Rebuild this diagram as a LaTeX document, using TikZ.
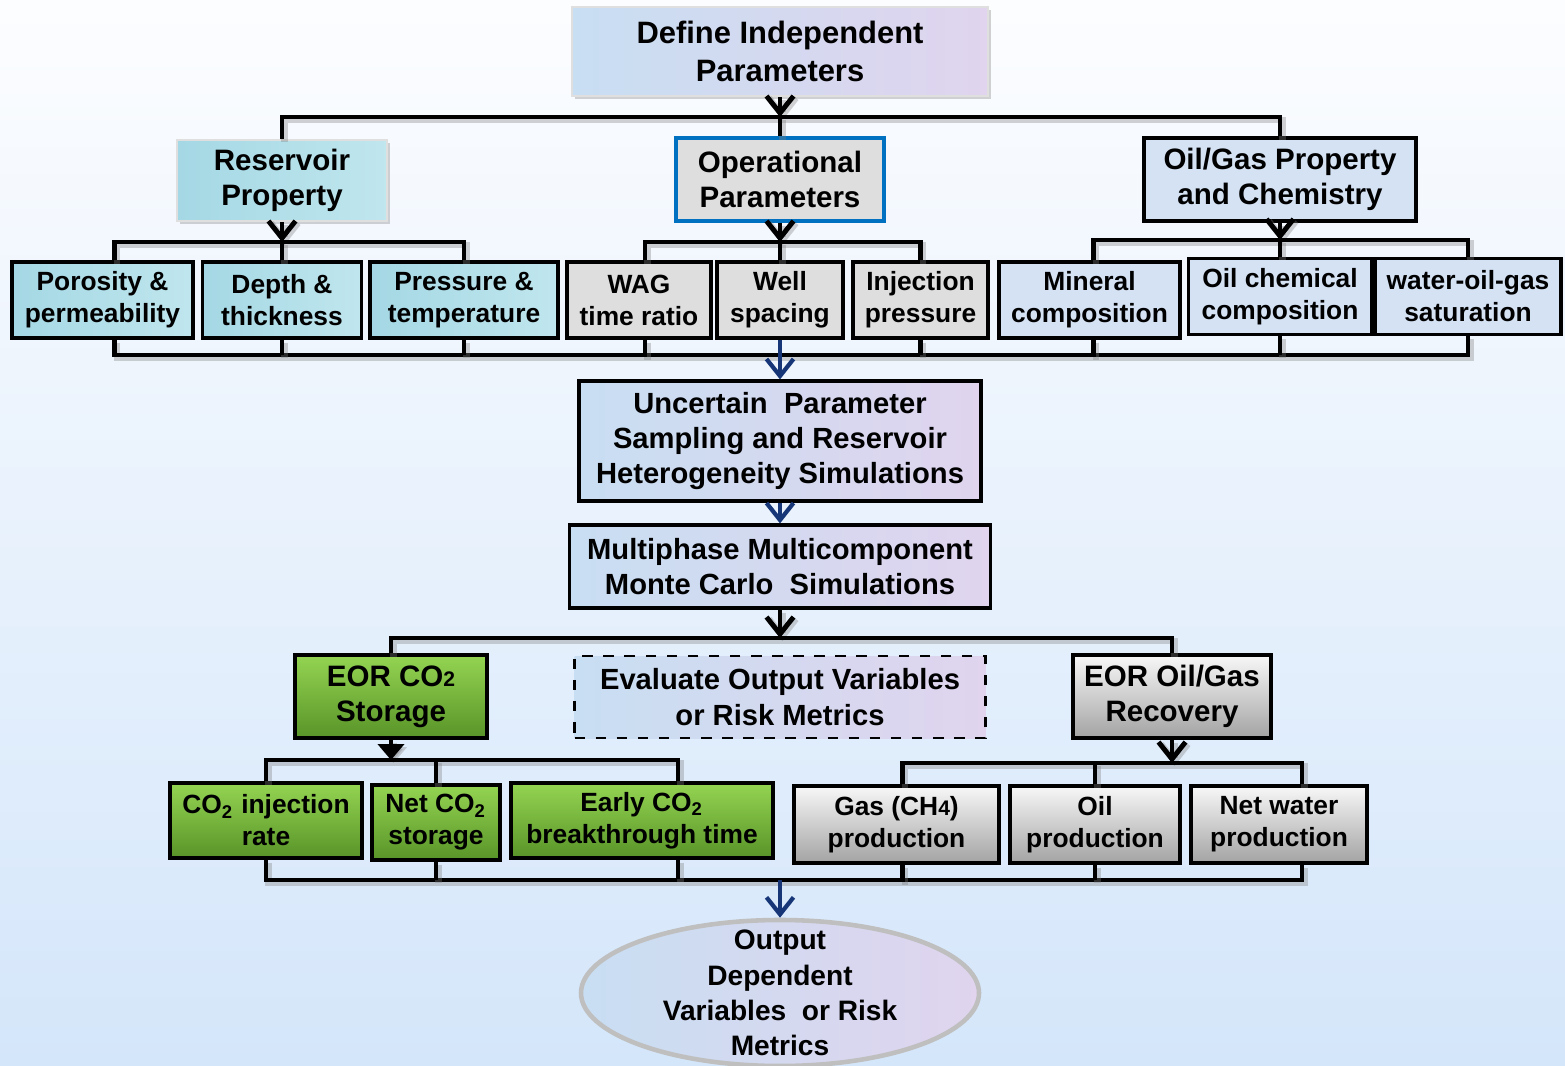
\documentclass[tikz,border=0pt]{standalone}
\usepackage{fontspec}
\setmainfont{Liberation Sans}
\usetikzlibrary{arrows.meta,shapes.geometric,shadows}
\definecolor{skytop}{RGB}{252,253,255}
\definecolor{skybot}{RGB}{212,230,250}
\definecolor{pastel}{RGB}{212,216,240}
\definecolor{pastelb}{RGB}{200,222,242}
\definecolor{pastelp}{RGB}{224,212,238}
\definecolor{aqua}{RGB}{164,216,228}
\definecolor{aquab}{RGB}{192,230,238}
\definecolor{marble}{RGB}{222,222,222}
\definecolor{chem}{RGB}{212,226,244}
\definecolor{leaf}{RGB}{148,212,82}
\definecolor{leafdark}{RGB}{88,148,40}
\definecolor{opblue}{RGB}{0,112,192}
\definecolor{navy}{RGB}{22,54,120}
\newcommand{\lowdigit}[1]{{\fontsize{6}{6}\selectfont #1}}

\begin{document}
\begin{tikzpicture}[>={Straight Barb[length=1.7mm,width=2.7mm]},
  box/.style={draw=black,line width=0.9pt,align=center,inner sep=0pt,
    font=\bfseries\fontsize{7.5}{9.1}\selectfont},
  head/.style={box,font=\bfseries\fontsize{8.4}{10}\selectfont},
  core/.style={box,left color=pastelb,middle color=pastel,right color=pastelp,
    font=\bfseries\fontsize{8.3}{10}\selectfont},
  soft/.style={draw=white!75!gray,line width=0.6pt,
    drop shadow={shadow xshift=0.8pt,shadow yshift=-0.8pt,opacity=0.35}},
  resfill/.style={left color=aqua,right color=aquab},
  opfill/.style={fill=marble},
  chemfill/.style={fill=chem},
  co2fill/.style={top color=leaf,bottom color=leafdark},
  recfill/.style={top color=white!97!black,bottom color=white!64!black},
  item/.style={box,minimum height=0.76cm},
  link/.style={line width=1.4pt,
    preaction={draw=black!50,opacity=0.35,line width=1.8pt,
      transform canvas={shift={(0.7pt,-0.9pt)}}}},
  flow/.style={->,navy,line width=1.2pt}]
  \useasboundingbox (0,0) rectangle (15.65,-10.66);
  \shade[top color=skytop,bottom color=skybot] (0,0) rectangle (15.65,-10.66);

  % top of the tree
  \node[core,soft,minimum width=4.16cm,minimum height=0.89cm,
    font=\bfseries\fontsize{8.8}{10.8}\selectfont] (define) at (7.80,-0.515)
    {Define Independent\\Parameters};
  \node[head,soft,resfill,minimum width=2.10cm,minimum height=0.81cm] (res) at (2.82,-1.805)
    {Reservoir\\Property};
  \node[head,opfill,draw=opblue,minimum width=2.08cm,minimum height=0.83cm] (oper) at (7.80,-1.795)
    {Operational\\Parameters};
  \node[head,chemfill,minimum width=2.72cm,minimum height=0.83cm] (oil) at (12.80,-1.795)
    {Oil/Gas Property\\and Chemistry};

  % independent parameters
  \node[item,resfill,minimum width=1.81cm] (poro) at (1.025,-3.00) {Porosity \&\\permeability};
  \node[item,resfill,minimum width=1.59cm] (depth) at (2.82,-3.00) {Depth \&\\thickness};
  \node[item,resfill,minimum width=1.88cm] (press) at (4.64,-3.00) {Pressure \&\\temperature};
  \node[item,opfill,minimum width=1.44cm] (wag) at (6.39,-3.00) {WAG\\time ratio};
  \node[item,opfill,minimum width=1.26cm] (well) at (7.80,-3.00) {Well\\spacing};
  \node[item,opfill,minimum width=1.35cm] (inj) at (9.205,-3.00) {Injection\\pressure};
  \node[item,chemfill,minimum width=1.81cm] (mineral) at (10.895,-3.00) {Mineral\\composition};
  \node[item,chemfill,minimum width=1.83cm] (chem) at (12.80,-2.965) {Oil chemical\\composition};
  \node[item,chemfill,minimum width=1.86cm] (sat) at (14.68,-2.965) {water-oil-gas\\saturation};

  \coordinate (top) at (7.80,-1.17);
  \draw[link,->] (define) -- (top);
  \draw[link] (res.north) |- (top) -| (oil.north);
  \draw[link] (top) -- (oper);

  \coordinate (resbus) at (2.82,-2.42);
  \coordinate (opbus) at (7.80,-2.42);
  \coordinate (oilbus) at (12.80,-2.40);
  \draw[link,->] (res) -- (resbus);
  \draw[link,->] (oper) -- (opbus);
  \draw[link,->] (oil) -- (oilbus);
  \draw[link] ([xshift=0.12cm]poro.north) |- (resbus) -| (press.north);
  \draw[link] (depth.north) -- (resbus);
  \draw[link] ([xshift=0.06cm]wag.north) |- (opbus) -| (inj.north);
  \draw[link] (well.north) -- (opbus);
  \draw[link] ([xshift=0.04cm]mineral.north) |- (oilbus) -| (sat.north);
  \draw[link] (chem.north) -- (oilbus);

  % all parameters join up again
  \coordinate (rowbus) at (7.80,-3.55);
  \draw[link] ([xshift=0.12cm]poro.south) |- (rowbus) -| (sat.south);
  \draw[link] ([xshift=0.06cm]wag.south) -- ++(0,-0.17);
  \draw[link] ([xshift=0.04cm]mineral.south) -- ++(0,-0.17);
  \foreach \n in {depth,press,inj,chem}
    \draw[link] (\n.south) -- (\n.south |- rowbus);

  % simulations
  \node[core,minimum width=4.02cm,minimum height=1.20cm] (unc) at (7.80,-4.41)
    {Uncertain\ \ Parameter\\Sampling and Reservoir\\Heterogeneity Simulations};
  \node[core,minimum width=4.21cm,minimum height=0.83cm] (multi) at (7.80,-5.665)
    {Multiphase Multicomponent\\Monte Carlo\ \ Simulations};
  \draw[flow] (well) -- (unc);
  \draw[flow] (unc) -- (multi);

  % outputs
  \node[head,co2fill,minimum width=1.92cm,minimum height=0.83cm] (eorc) at (3.91,-6.965)
    {EOR CO\lowdigit{2}\\Storage};
  \node[core,dashed,line width=0.8pt,minimum width=4.11cm,minimum height=0.82cm] (eval) at (7.80,-6.97)
    {Evaluate Output Variables\\or Risk Metrics};
  \node[head,recfill,minimum width=1.98cm,minimum height=0.83cm] (eorg) at (11.72,-6.965)
    {EOR Oil/Gas\\Recovery};

  \coordinate (simbus) at (7.80,-6.38);
  \draw[link,->] (multi) -- (simbus);
  \draw[link] (eorc.north) |- (simbus) -| (eorg.north);

  \node[item,co2fill,minimum width=1.92cm,minimum height=0.75cm] (rate) at (2.66,-8.205)
    {CO\textsubscript{2} injection\\rate};
  \node[item,co2fill,minimum width=1.28cm,minimum height=0.75cm] (net) at (4.36,-8.225)
    {Net CO\textsubscript{2}\\storage};
  \node[item,co2fill,minimum width=2.62cm,minimum height=0.75cm] (early) at (6.42,-8.205)
    {Early CO\textsubscript{2}\\breakthrough time};
  \node[item,recfill,minimum width=2.05cm,minimum height=0.77cm] (gas) at (8.965,-8.245)
    {Gas (CH\lowdigit{4})\\production};
  \node[item,recfill,minimum width=1.70cm,minimum height=0.77cm] (oilp) at (10.95,-8.245)
    {Oil\\production};
  \node[item,recfill,minimum width=1.76cm,minimum height=0.77cm] (water) at (12.79,-8.245)
    {Net water\\production};

  \coordinate (co2bus) at (3.91,-7.60);
  \coordinate (recbus) at (11.72,-7.63);
  \draw[link,-{Triangle[length=1.6mm,width=2.6mm]}] (eorc) -- (co2bus);
  \draw[link,->] (eorg) -- (recbus);
  \draw[link] (rate.north) |- (co2bus) -| ([xshift=0.36cm]early.north);
  \draw[link] (net.north) -- (net.north |- co2bus);
  \draw[link] ([xshift=0.06cm]gas.north) |- (recbus) -| ([xshift=0.23cm]water.north);
  \draw[link] (oilp.north) -- (oilp.north |- recbus);

  \coordinate (outbus) at (7.80,-8.80);
  \draw[link] (rate.south) |- (outbus) -| ([xshift=0.23cm]water.south);
  \draw[link] ([xshift=0.36cm]early.south) -- ++(0,-0.19);
  \draw[link] ([xshift=0.06cm]gas.south) -- ++(0,-0.17);
  \foreach \n in {net,oilp}
    \draw[link] (\n.south) -- (\n.south |- outbus);

  % dependent variables
  \node[ellipse,draw=gray!50,line width=1.3pt,left color=pastelb,middle color=pastel,
    right color=pastelp,minimum width=3.98cm,minimum height=1.46cm,inner sep=0pt] (out) at (7.80,-9.93) {};
  \node[align=center,font=\bfseries\fontsize{8}{10}\selectfont] (outtext) at (out)
    {Output\\Dependent\\Variables\ \ or Risk\\Metrics};
  \draw[flow] (outbus) -- (out);
\end{tikzpicture}
\end{document}
